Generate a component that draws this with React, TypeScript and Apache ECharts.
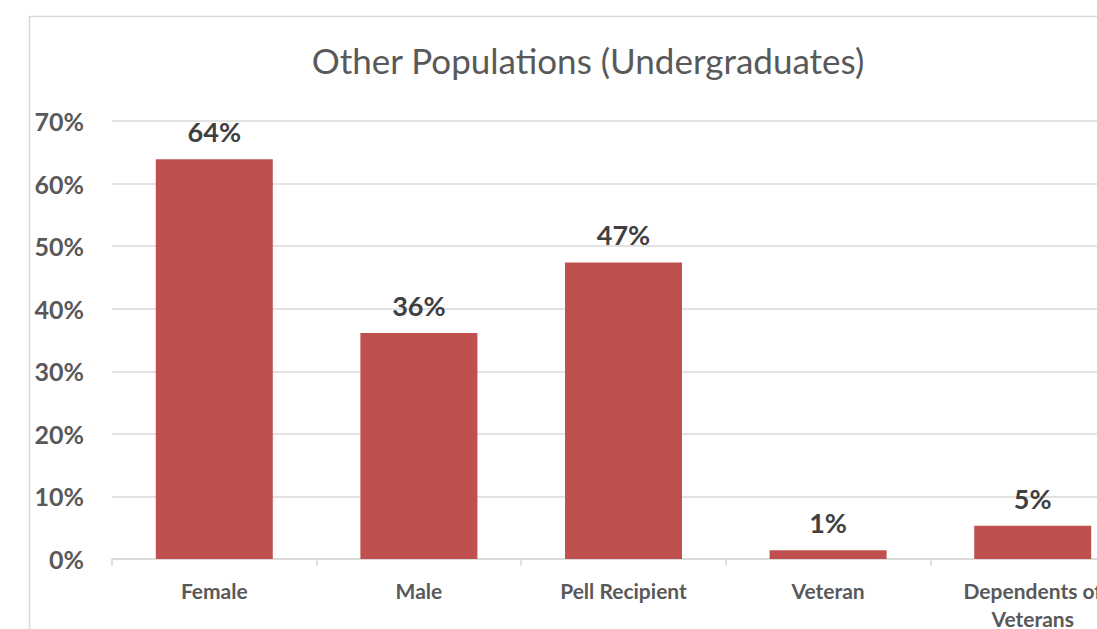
import React, { useEffect, useRef } from "react";
import * as echarts from "echarts";

const categories = ["Female", "Male", "Pell Recipient", "Veteran", "Dependents of\nVeterans"];
const values = [63.9, 36.1, 47.4, 1.4, 5.3];
const titleText = "Other Populations (Undergraduates)";

const FONT = "Lato, 'Open Sans', sans-serif";

export default function App() {
  const ref = useRef<HTMLDivElement>(null);
  useEffect(() => {
    if (!ref.current) return;
    const chart = echarts.init(ref.current, null, { renderer: "svg" });
    chart.setOption({
      animation: false,
      backgroundColor: "#ffffff",
      textStyle: { fontFamily: FONT },
      title: {
        text: titleText,
        left: 583,
        textAlign: "center",
        top: 37,
        textStyle: { fontFamily: FONT, fontSize: 35, fontWeight: "normal", color: "#595959" },
      },
      graphic: [
        {
          type: "rect",
          shape: { x: 29.5, y: 16.5, width: 1200, height: 700 },
          style: { fill: "none", stroke: "#d9d9d9", lineWidth: 1.5 },
          z: -1,
        },
      ],
      grid: {
        left: 112,
        right: -38,
        top: 121,
        bottom: 70,
        containLabel: false,
        outerBoundsMode: "none",
      },
      xAxis: {
        type: "category",
        data: categories,
        axisLine: { lineStyle: { color: "#d9d9d9", width: 1.5 } },
        axisTick: { show: true, length: 7, lineStyle: { color: "#d9d9d9", width: 1.5 } },
        axisLabel: {
          color: "#595959",
          fontFamily: FONT,
          fontWeight: "bold",
          fontSize: 21,
          margin: 17,
          lineHeight: 28,
          interval: 0,
        },
      },
      yAxis: {
        type: "value",
        min: 0,
        max: 70,
        interval: 10,
        axisLine: { show: false },
        axisTick: { show: false },
        splitLine: { lineStyle: { color: "#d9d9d9", width: 1.5 } },
        axisLabel: {
          formatter: "{value}%",
          color: "#595959",
          fontFamily: FONT,
          fontWeight: "bold",
          fontSize: 25,
          margin: 28,
        },
      },
      series: [
        {
          type: "bar",
          data: values,
          barWidth: 117,
          itemStyle: { color: "#c0504d" },
          label: {
            show: true,
            position: "top",
            distance: 14,
            formatter: (p: any) => Math.round(p.value) + "%",
            color: "#404040",
            fontFamily: FONT,
            fontWeight: "bold",
            fontSize: 27,
          },
        },
      ],
    });
    return () => chart.dispose();
  }, []);
  return (
    <div
      ref={ref}
      style={{ position: "fixed", left: 0, top: 0, width: 1097, height: 629 }}
    />
  );
}
